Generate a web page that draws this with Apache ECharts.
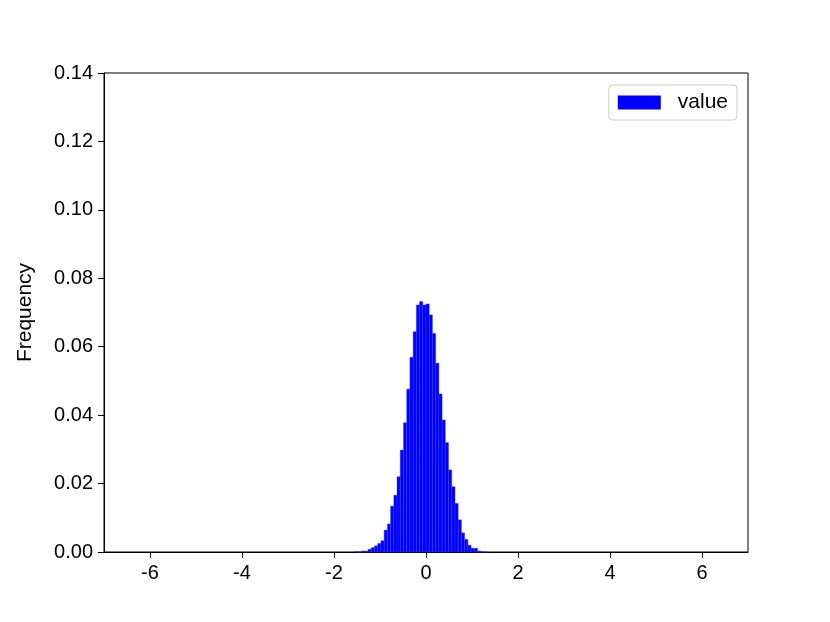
<!DOCTYPE html>
<html>
<head>
<meta charset="utf-8">
<script src="https://cdn.jsdelivr.net/npm/echarts@6/dist/echarts.min.js"></script>
<style>html,body{margin:0;padding:0;background:#fff;}#c{width:830px;height:622px;}</style>
</head>
<body>
<div id="c"></div>
<script>
// Histogram bins: left edges (bin width 0.07) and normalized frequencies
const binWidth = 0.07;
const binStarts = [-1.54,-1.47,-1.40,-1.33,-1.26,-1.19,-1.12,-1.05,-0.98,-0.91,-0.84,-0.77,-0.70,-0.63,-0.56,-0.49,-0.42,-0.35,-0.28,-0.21,-0.14,-0.07,0.00,0.07,0.14,0.21,0.28,0.35,0.42,0.49,0.56,0.63,0.70,0.77,0.84,0.91,0.98,1.05,1.12,1.19,1.26];
const freqs = [0.0001,0.0001,0.0003,0.0003,0.0008,0.0013,0.0018,0.0025,0.0033,0.0064,0.0082,0.0134,0.0166,0.0220,0.0298,0.0378,0.0476,0.0569,0.0644,0.0722,0.0732,0.0722,0.0725,0.0693,0.0639,0.0552,0.0462,0.0386,0.0320,0.0240,0.0191,0.0142,0.0094,0.0056,0.0037,0.0020,0.0011,0.0011,0.0003,0.0001,0.00005];
const xTicks = [-6,-4,-2,0,2,4,6];
const yTicks = [0,0.02,0.04,0.06,0.08,0.10,0.12,0.14];
const seriesName = 'value';

const data = binStarts.map((s, i) => [s, s + binWidth, freqs[i]]);
const font = 'Liberation Sans, Arial, sans-serif';
const chart = echarts.init(document.getElementById('c'));
chart.setOption({
  animation: false,
  grid: {left: 104, right: 82, top: 73, bottom: 70, show: true, borderColor: '#000', borderWidth: 1, backgroundColor: 'transparent'},
  legend: {
    data: [seriesName], right: 93, top: 85, orient: 'vertical',
    itemWidth: 43, itemHeight: 14, icon: 'rect',
    padding: [7, 9, 7, 9], itemGap: 10,
    borderColor: '#cccccc', borderWidth: 1, borderRadius: 4, backgroundColor: '#fff',
    textStyle: {fontFamily: font, fontSize: 21, color: '#000', padding: [0, 0, 0, 12]}
  },
  xAxis: {
    type: 'value', min: -7, max: 7, interval: 1,
    axisLine: {show: true, onZero: false, lineStyle: {color: '#000', width: 1}},
    axisTick: {show: true, inside: false, length: 6, lineStyle: {color: '#000'}, customValues: xTicks},
    splitLine: {show: false},
    axisLabel: {fontFamily: font, fontSize: 20, color: '#000', margin: 11, customValues: xTicks}
  },
  yAxis: {
    type: 'value', min: 0, max: 0.14, interval: 0.02,
    name: 'Frequency', nameLocation: 'middle', nameGap: 68, nameRotate: 90,
    nameTextStyle: {fontFamily: font, fontSize: 21, color: '#000'},
    axisLine: {show: true, onZero: false, lineStyle: {color: '#000', width: 1}},
    axisTick: {show: true, inside: false, length: 6, lineStyle: {color: '#000'}},
    splitLine: {show: false},
    axisLabel: {fontFamily: font, fontSize: 20, color: '#000', margin: 11,
      formatter: v => v.toFixed(2)}
  },
  series: [{
    name: seriesName, type: 'custom',
    itemStyle: {color: '#0000ff'},
    encode: {x: [0, 1], y: 2},
    renderItem: function (params, api) {
      const p0 = api.coord([api.value(0), 0]);
      const p1 = api.coord([api.value(1), api.value(2)]);
      return {
        type: 'rect',
        shape: {x: p0[0], y: p1[1], width: p1[0] - p0[0], height: p0[1] - p1[1]},
        style: {fill: '#0000ff', stroke: '#3a3aff', lineWidth: 0.4}
      };
    },
    data: data
  }]
});
</script>
</body>
</html>
